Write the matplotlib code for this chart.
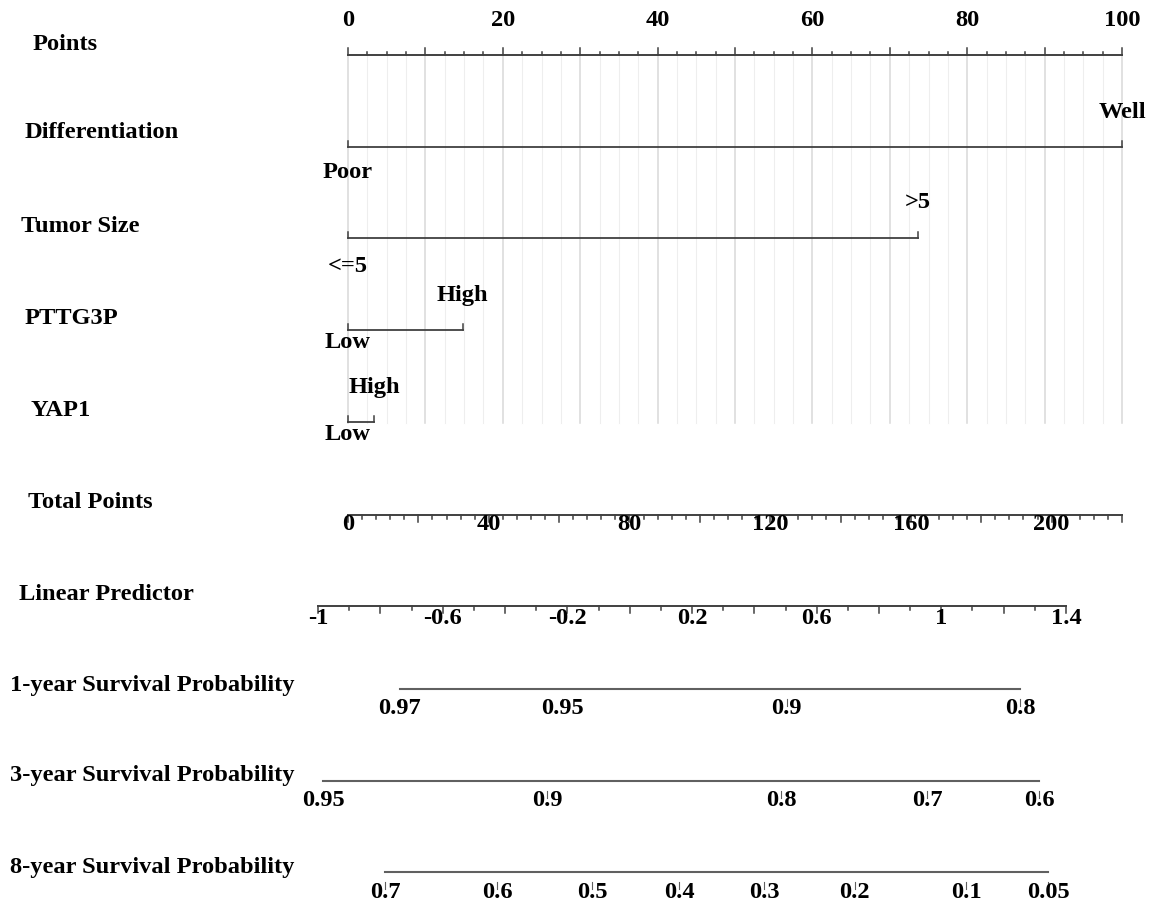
import numpy as np
import matplotlib
matplotlib.use("Agg")
import matplotlib.pyplot as plt

# ---- data ----
points_range = (0, 100)
points_labels = [0, 20, 40, 60, 80, 100]

diff_levels = ["Poor", "Well"]
diff_points = [0, 100]
size_levels = ["<=5", ">5"]
size_points = [0, 73.6]
pttg_levels = ["Low", "High"]
pttg_points = [0, 14.8]
yap_levels = ["Low", "High"]
yap_points = [0, 3.4]

total_range = (0, 220)
total_labels = [0, 40, 80, 120, 160, 200]

lp_range = (-1.0, 1.4)
lp_labels = [-1, -0.6, -0.2, 0.2, 0.6, 1, 1.4]
lp_at_zero_total = -0.904      # linear predictor at 0 total points
lp_per_total = 0.01129         # linear predictor per total point

# baseline cumulative hazards, S = exp(-H0 * exp(lp))
h0_1yr = 0.0637
h0_3yr = 0.1372
h0_8yr = 0.782
surv_1yr = [0.97, 0.95, 0.9, 0.8]
surv_3yr = [0.95, 0.9, 0.8, 0.7, 0.6]
surv_8yr = [0.7, 0.6, 0.5, 0.4, 0.3, 0.2, 0.1, 0.05]

# ---- layout (pixels) ----
W, H = 1160, 907
X0 = 348.0          # pixel of 0 points
PX_PER_PT = 7.74
FS = 17.6
DY = 2              # text baseline nudge
FONT = dict(family="Liberation Serif", fontweight="bold", fontsize=FS, color="black")
LINE_C = "#404040"


def total_to_pts(tp):
    return np.asarray(tp, dtype=float) * 100.0 / total_range[1]


def lp_to_pts(lp):
    return total_to_pts((np.asarray(lp, dtype=float) - lp_at_zero_total) / lp_per_total)


def surv_to_pts(s, h0):
    lp = np.log(-np.log(np.asarray(s, dtype=float))) - np.log(h0)
    return lp_to_pts(lp)


def px(xpix):
    return (xpix - X0) / PX_PER_PT


def label(x, y, txt, ha="center"):
    ax.text(x, y + DY, txt, ha=ha, va="center", **FONT)


fig = plt.figure(figsize=(W / 100, H / 100), dpi=100)
ax = fig.add_axes([0, 0, 1, 1])
ax.set_xlim(px(0), px(W))
ax.set_ylim(H, 0)
ax.axis("off")

# row labels
row_labels = [
    ("Points", 33, 42), ("Differentiation", 25, 130), ("Tumor Size", 21, 225),
    ("PTTG3P", 25, 317), ("YAP1", 31, 408), ("Total Points", 28, 501),
    ("Linear Predictor", 19, 593), ("1-year Survival Probability", 10, 683),
    ("3-year Survival Probability", 10, 774), ("8-year Survival Probability", 10, 865),
]
for txt, xp, yp in row_labels:
    label(px(xp), yp, txt, ha="left")

# vertical reference grid
y_axis_pts, y_grid_end = 55, 423
for v in np.arange(points_range[0], points_range[1] + 0.01, 2.5):
    major = abs(v % 10) < 1e-9
    ax.plot([v, v], [y_axis_pts, y_grid_end], color="#d8d8d8" if major else "#eeeeee",
            lw=1.1 if major else 0.8, zorder=0)

# Points axis (ticks up)
ax.plot(points_range, [y_axis_pts] * 2, color=LINE_C, lw=1.4)
for v in np.arange(points_range[0], points_range[1] + 0.01, 2.5):
    tl = 7 if abs(v % 10) < 1e-9 else 3.5
    ax.plot([v, v], [y_axis_pts, y_axis_pts - tl], color=LINE_C, lw=1.1)
for v in points_labels:
    label(v, 18, str(v))

# categorical variables
variables = [
    (diff_levels, diff_points, 147, 23),
    (size_levels, size_points, 238, 27),
    (pttg_levels, pttg_points, 330, 11),
    (yap_levels, yap_points, 422, 10),
]
for levels, pts, yl, below in variables:
    ax.plot([min(pts), max(pts)], [yl, yl], color=LINE_C, lw=1.3)
    for p in pts:
        ax.plot([p, p], [yl, yl - 6], color=LINE_C, lw=1.1)
    label(pts[0], yl + below, levels[0])
    label(pts[1], yl - 37, levels[1])

# Total points axis (ticks down)
y_tot = 515
ax.plot(total_to_pts(total_range), [y_tot] * 2, color=LINE_C, lw=1.4)
for v in np.arange(total_range[0], total_range[1] + 0.01, 4):
    tl = 7 if v % 20 == 0 else 3.5
    xv = total_to_pts(v)
    ax.plot([xv, xv], [y_tot, y_tot + tl], color=LINE_C, lw=1.1)
for v in total_labels:
    label(total_to_pts(v), 523, str(v))

# Linear predictor axis
y_lp = 606
ax.plot(lp_to_pts(lp_range), [y_lp] * 2, color=LINE_C, lw=1.4)
for i, v in enumerate(np.arange(lp_range[0], lp_range[1] + 0.001, 0.1)):
    tl = 7 if i % 2 == 0 else 4
    xv = lp_to_pts(v)
    ax.plot([xv, xv], [y_lp, y_lp + tl], color=LINE_C, lw=1.1)
for v in lp_labels:
    label(lp_to_pts(v), 616, f"{v:g}")

# survival probability axes
for probs, h0, ys in [(surv_1yr, h0_1yr, 689), (surv_3yr, h0_3yr, 781), (surv_8yr, h0_8yr, 872)]:
    xs = surv_to_pts(probs, h0)
    ax.plot([xs.min(), xs.max()], [ys, ys], color="#606060", lw=1.5)
    for xv, p in zip(xs, probs):
        ax.plot([xv, xv], [ys + 10, ys + 17], color="#606060", lw=0.8)
        label(xv, ys + 18, f"{p:g}")

fig.savefig("out.png", dpi=100)
